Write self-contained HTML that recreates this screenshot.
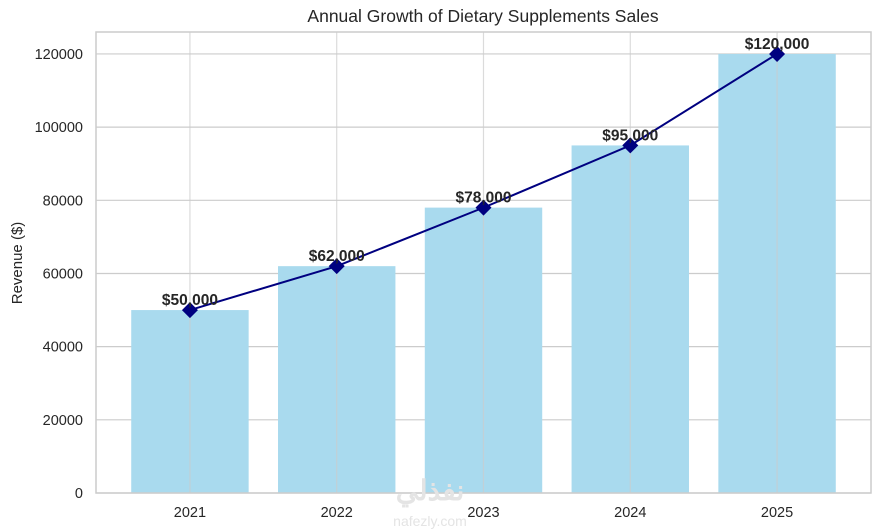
<!DOCTYPE html>
<html><head><meta charset="utf-8"><style>
body{margin:0;background:#fff;}
svg{display:block;font-family:"Liberation Sans",Arial,sans-serif;}
</style></head><body>
<svg id="chart" width="881" height="531" viewBox="0 0 881 531">
<rect x="0" y="0" width="881" height="531" fill="#fff"/>
<text x="483" y="22" text-anchor="middle" font-size="17.5" fill="#262626">Annual Growth of Dietary Supplements Sales</text>
<text transform="translate(22,263) rotate(-90)" text-anchor="middle" font-size="15" fill="#262626">Revenue ($)</text>
<g id="grid"></g>
<g id="bars"></g>
<g id="vgrid"></g>
<g id="line"></g>
<g id="labels"></g>
<rect x="96" y="32" width="775" height="461" fill="none" stroke="#cccccc" stroke-width="1.5"/>
<text x="430" y="500" text-anchor="middle" font-size="28" font-weight="bold" fill="#e4e4e4">نفذلي</text>
<text x="430" y="526" text-anchor="middle" font-size="14" fill="#e4e4e4">nafezly.com</text>
</svg>
<script>
const categories = ["2021","2022","2023","2024","2025"];
const revenues = [50000, 62000, 78000, 95000, 120000];
const valueLabels = ["$50,000","$62,000","$78,000","$95,000","$120,000"];
const yTicks = [0, 20000, 40000, 60000, 80000, 100000, 120000];

const NS="http://www.w3.org/2000/svg";
const L=96,R=871,T=32,B=493;
const xMin=-0.64,xMax=4.64,yMax=126000;
const x=i=>L+(i-xMin)/(xMax-xMin)*(R-L);
const y=v=>B-v/yMax*(B-T);
function mk(tag,attrs,parent){const e=document.createElementNS(NS,tag);for(const k in attrs)e.setAttribute(k,attrs[k]);document.getElementById(parent).appendChild(e);return e;}

yTicks.forEach(t=>{
  const l=mk('line',{x1:L,x2:R,y1:y(t),y2:y(t),stroke:'#cccccc','stroke-width':1.2},'grid');
  
  
  const tx=mk('text',{x:L-13,y:y(t)+5,'text-anchor':'end','font-size':14.5,fill:'#262626'},'grid');
  tx.textContent=t;
  
  
});
const bw=(x(1)-x(0))*0.8;
categories.forEach((c,i)=>{
  const b=mk('rect',{x:x(i)-bw/2,y:y(revenues[i]),width:bw,height:B-y(revenues[i]),fill:'#a9daee'},'bars');
  
  
  const g=mk('line',{x1:x(i),x2:x(i),y1:T,y2:B,stroke:'#cccccc','stroke-width':1.2,'stroke-opacity':0.7},'vgrid');
  
  
  const tx=mk('text',{x:x(i),y:B+24,'text-anchor':'middle','font-size':14.5,fill:'#262626'},'labels');
  tx.textContent=c;
  
  
});
const pts=revenues.map((v,i)=>x(i)+','+y(v)).join(' ');
const pl=mk('polyline',{points:pts,fill:'none',stroke:'#000080','stroke-width':2},'line');


revenues.forEach((v,i)=>{
  const cx=x(i),cy=y(v),s=8;
  const m=mk('polygon',{points:`${cx},${cy-s} ${cx+s},${cy} ${cx},${cy+s} ${cx-s},${cy}`,fill:'#000080'},'line');
  
  
  const t=mk('text',{x:cx,y:cy-5,'text-anchor':'middle','font-size':15.5,'font-weight':'bold',fill:'#262626'},'labels');
  t.textContent=valueLabels[i];
  
  
});
</script>
</body></html>
